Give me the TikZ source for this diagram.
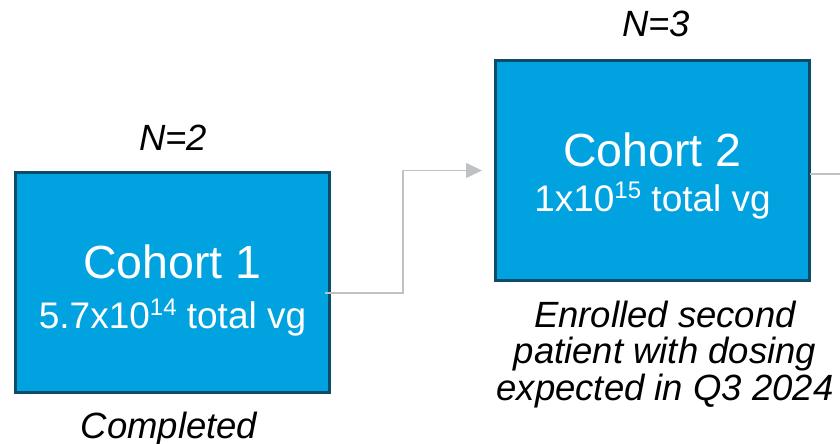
\documentclass[tikz,border=0pt]{standalone}
\usepackage{fontspec}
\setmainfont{Liberation Sans}
\usetikzlibrary{arrows.meta,calc}
\definecolor{cohortfill}{RGB}{0,163,224}
\definecolor{cohortedge}{RGB}{12,76,104}
\definecolor{linkgray}{RGB}{190,194,197}
% superscript exponent in the dose lines
\newcommand\doseexp[1]{\raisebox{13pt}{\fontsize{24}{24}\selectfont #1}}
\begin{document}
\begin{tikzpicture}[x=1pt,y=-1pt,
  cohortbox/.style={draw=cohortedge, fill=cohortfill, line width=3pt,
    minimum width=314pt, minimum height=220pt, inner sep=0pt, outer sep=0pt},
  titletext/.style={text=white, anchor=base, inner sep=0pt,
    font=\fontsize{46.5}{46.5}\selectfont},
  dosetext/.style={text=white, anchor=base, inner sep=0pt,
    font=\fontsize{37}{37}\selectfont},
  notetext/.style={anchor=base, inner sep=0pt, align=center,
    font=\fontsize{36.5}{36.5}\selectfont\itshape},
  link/.style={draw=linkgray, line width=1.5pt},
]
\useasboundingbox (0,0) rectangle (840,444);

% cohort boxes
\node[cohortbox] (c1) at (172.5,282) {};
\node[cohortbox] (c2) at (652.5,170.5) {};

% box contents
\node[titletext] (c1title) at ($(c1.center)+(0,-4)$) {Cohort 1};
\node[dosetext]  (c1dose)  at ($(c1.center)+(0,46)$) {5.7x10\doseexp{14} total vg};
\node[titletext] (c2title) at ($(c2.center)+(0,-4)$) {Cohort 2};
\node[dosetext]  (c2dose)  at ($(c2.center)+(0,41)$) {1x10\doseexp{15} total vg};

% group sizes and status notes
\node[notetext] (n1) at (173,150) {N=2};
\node[notetext] (n2) at (656,37) {N=3};
\node[notetext] (s1) at (169,438) {Completed};
% anchored on the baseline of the last line
\node[notetext] (s2) at (665,400) {Enrolled second\\patient with dosing\\expected in Q3 2024};

% connectors
\coordinate (c1out) at ($(c1.east)+(-4.5,11)$);
\coordinate (c2in) at ($(c2.west)+(-13.5,0)$);
\coordinate (c2out) at ($(c2.east)+(0,3.5)$);
\coordinate (c3in) at (840,174);
\draw[link, -{Triangle[length=16pt,width=15pt]}] (c1out) -- ++(78,0) |- (c2in);
\draw[link] (c2out) -- (c3in);
\end{tikzpicture}
\end{document}
